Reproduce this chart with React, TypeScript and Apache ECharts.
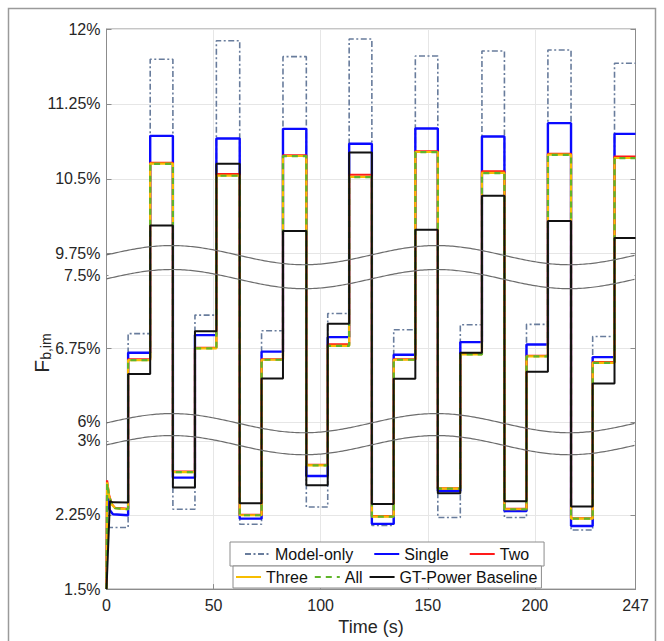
import React, { useEffect, useRef } from 'react';
import * as echarts from 'echarts';

// ---------- data ----------
// phase boundaries (s): low, mid, high levels repeat 8 times
const PHASE_TIMES = [0, 10.1, 20.4, 31.0, 41.3, 51.3, 62.2, 72.4, 82.4, 93.3, 103.3, 113.3, 123.9, 134.1, 144.2, 154.7, 165.2, 175.3, 185.8, 196.1, 206.1, 216.9, 227.0, 237.2, 247];

const SERIES_NAMES = ['Model-only', 'Single', 'Two', 'Three', 'All', 'GT-Power Baseline'];

// level held in each phase (%)
const MODEL_ONLY = [2.123, 6.905, 11.697, 2.308, 7.095, 11.883, 2.156, 6.935, 11.723, 2.331, 7.112, 11.9, 2.145, 6.945, 11.73, 2.224, 6.996, 11.78, 2.224, 7.0, 11.79, 2.098, 6.876, 11.657];
const SINGLE = [2.247, 6.709, 10.93, 2.628, 6.89, 10.903, 2.213, 6.72, 11.0, 2.644, 6.869, 10.85, 2.16, 6.688, 11.003, 2.492, 6.818, 10.923, 2.29, 6.794, 11.057, 2.139, 6.664, 10.95];
const TWO = [2.312, 6.64, 10.66, 2.69, 6.76, 10.547, 2.25, 6.642, 10.735, 2.757, 6.794, 10.54, 2.238, 6.642, 10.775, 2.52, 6.697, 10.573, 2.312, 6.676, 10.75, 2.217, 6.612, 10.723];
const THREE = [2.308, 6.633, 10.652, 2.684, 6.753, 10.532, 2.247, 6.637, 10.728, 2.752, 6.78, 10.519, 2.234, 6.637, 10.768, 2.517, 6.692, 10.558, 2.308, 6.671, 10.741, 2.213, 6.606, 10.708];
const ALL = [2.308, 6.633, 10.65, 2.684, 6.753, 10.53, 2.247, 6.637, 10.727, 2.752, 6.78, 10.517, 2.234, 6.637, 10.767, 2.517, 6.692, 10.557, 2.308, 6.671, 10.74, 2.213, 6.606, 10.707];
const GT_POWER = [2.375, 6.49, 10.033, 2.527, 6.93, 10.65, 2.368, 6.445, 9.977, 2.55, 7.006, 10.763, 2.361, 6.442, 9.99, 2.469, 6.709, 10.33, 2.388, 6.514, 10.077, 2.335, 6.394, 9.907];

// start-up transient at t = 0 ([time, value])
const START_MODEL: [number, number][] = [[0, 1.5], [0.5, 2.15], [1.5, 2.123]];
const START_SINGLE: [number, number][] = [[0, 1.5], [0.3, 2.45], [1.5, 2.3], [3, 2.258]];
const START_TWO: [number, number][] = [[0, 1.5], [0.25, 2.6], [1.2, 2.45], [2.5, 2.36], [4, 2.322]];
const START_THREE: [number, number][] = [[0, 1.5], [0.3, 2.58], [1.2, 2.44], [2.5, 2.355], [4, 2.318]];
const START_ALL: [number, number][] = [[0, 1.5], [0.3, 2.57], [1.2, 2.44], [2.5, 2.355], [4, 2.318]];
const START_GT: [number, number][] = [[0, 1.5], [1.6, 2.39], [3, 2.378]];

const Y_TICKS = [1.5, 2.25, 3, 6, 6.75, 7.5, 9.75, 10.5, 11.25, 12];
const X_TICKS = [0, 50, 100, 150, 200, 247];

// broken y axis: real value ranges and the share of the axis they get
const SEGMENTS = [
  { lo: 1.5, hi: 3, dLo: 0, dHi: 148.5 },
  { lo: 6, hi: 7.5, dLo: 167.5, dHi: 314 },
  { lo: 9.75, hi: 12, dLo: 336, dHi: 561 },
];
const D_MAX = 561;

function toDisp(v: number): number {
  for (let i = 0; i < SEGMENTS.length; i++) {
    const s = SEGMENTS[i];
    if (v <= s.hi || i === SEGMENTS.length - 1) {
      if (v >= s.lo || i === 0) return s.dLo + ((v - s.lo) * (s.dHi - s.dLo)) / (s.hi - s.lo);
      const p = SEGMENTS[i - 1];
      return p.dHi + ((v - p.hi) * (s.dLo - p.dHi)) / (s.lo - p.hi);
    }
  }
  return 0;
}
function fromDisp(d: number): number {
  for (let i = 0; i < SEGMENTS.length; i++) {
    const s = SEGMENTS[i];
    if (d <= s.dHi + 1e-9 || i === SEGMENTS.length - 1) {
      if (d >= s.dLo - 1e-9 || i === 0) return s.lo + ((d - s.dLo) * (s.hi - s.lo)) / (s.dHi - s.dLo);
      const p = SEGMENTS[i - 1];
      return p.hi + ((d - p.dHi) * (s.lo - p.hi)) / (s.dLo - p.dHi);
    }
  }
  return 0;
}

function buildPoints(levels: number[], start: [number, number][]) {
  const pts: number[][] = start.map(([t, v]) => [t, toDisp(v)]);
  levels.forEach((v, k) => {
    if (!(k === 0 && start.length)) pts.push([PHASE_TIMES[k], toDisp(v)]);
    pts.push([PHASE_TIMES[k + 1], toDisp(v)]);
  });
  return pts;
}

const FONT = '"Liberation Sans", Arial, Helvetica, sans-serif';
const TXT = '#262626';
const AXIS = '#8c8c8c';

export default function App() {
  const ref = useRef<HTMLDivElement>(null);

  useEffect(() => {
    const el = ref.current!;
    const chart = echarts.init(el, null, { renderer: 'svg' });
    const tickDisp = Y_TICKS.map(toDisp);

    const styles = [
      { color: '#687c9c', width: 1.6, type: [6, 2.5, 2, 2.5] },
      { color: '#0a0aff', width: 2.4, type: 'solid' },
      { color: '#ff1a1a', width: 2.2, type: 'solid' },
      { color: '#f7bd00', width: 2.2, type: 'solid' },
      { color: '#5fb52a', width: 2.2, type: [6, 5] },
      { color: '#111111', width: 2, type: 'solid' },
    ];
    const dataSets = [
      buildPoints(MODEL_ONLY, START_MODEL),
      buildPoints(SINGLE, START_SINGLE),
      buildPoints(TWO, START_TWO),
      buildPoints(THREE, START_THREE),
      buildPoints(ALL, START_ALL),
      buildPoints(GT_POWER, START_GT),
    ];

    const legendText = { fontSize: 16, color: '#111', fontFamily: FONT };
    const hiddenSymbol = { color: 'rgba(0,0,0,0)', borderColor: 'rgba(0,0,0,0)', borderWidth: 0, opacity: 0 };

    const yAxisBase = {
      type: 'value',
      min: 0,
      max: D_MAX,
      axisLine: { show: true, lineStyle: { color: AXIS, width: 1 } },
      axisTick: { show: true, inside: true, length: 5, customValues: tickDisp, lineStyle: { color: AXIS } },
    };

    chart.setOption({
      animation: false,
      backgroundColor: '#ffffff',
      grid: { left: 106.5, right: 28.5, top: 29, bottom: 51, show: true, borderColor: AXIS, borderWidth: 1, backgroundColor: 'transparent' },
      xAxis: {
        type: 'value',
        min: 0,
        max: 247,
        name: 'Time (s)',
        nameLocation: 'middle',
        nameGap: 28,
        nameTextStyle: { fontSize: 18, color: TXT, fontFamily: FONT },
        axisLine: { show: true, onZero: false, lineStyle: { color: AXIS } },
        axisTick: { show: true, inside: true, length: 5, customValues: X_TICKS, lineStyle: { color: AXIS } },
        axisLabel: { customValues: X_TICKS, fontSize: 16, color: TXT, fontFamily: FONT, margin: 8 },
        splitLine: { show: true, lineStyle: { color: '#e6e6e6', width: 1 } },
      },
      yAxis: [
        {
          ...yAxisBase,
          position: 'left',
          axisLabel: {
            customValues: tickDisp,
            fontSize: 16,
            color: TXT,
            fontFamily: FONT,
            margin: 6,
            formatter: (d: number) => `${Number(fromDisp(d).toFixed(2))}%`,
          },
          splitLine: { show: true, lineStyle: { color: '#e6e6e6', width: 1 } },
        },
        {
          ...yAxisBase,
          position: 'right',
          axisLabel: { show: false },
          splitLine: { show: false },
        },
      ],
      legend: [
        {
          data: SERIES_NAMES.slice(0, 3),
          left: 230,
          top: 542,
          orient: 'horizontal',
          padding: [4, 15, 4, 14],
          itemGap: 20,
          itemWidth: 25,
          itemHeight: 14,
          itemStyle: hiddenSymbol,
          textStyle: legendText,
          borderColor: '#8c8c8c',
          borderWidth: 1,
          backgroundColor: '#ffffff',
          selectedMode: false,
        },
        {
          data: SERIES_NAMES.slice(3),
          left: 233,
          top: 566,
          orient: 'horizontal',
          padding: [3, 4, 3, 2],
          itemGap: 6,
          itemWidth: 25,
          itemHeight: 14,
          itemStyle: hiddenSymbol,
          textStyle: legendText,
          borderColor: '#8c8c8c',
          borderWidth: 1,
          backgroundColor: '#ffffff',
          selectedMode: false,
        },
      ],
      series: SERIES_NAMES.map((name, i) => ({
        name,
        type: 'line',
        data: dataSets[i],
        symbol: 'none',
        showSymbol: false,
        lineStyle: { color: styles[i].color, width: styles[i].width, type: styles[i].type, cap: 'butt' },
        itemStyle: { color: styles[i].color },
        z: 2 + i * 0.01,
        clip: true,
      })),
    });

    // axis-break bands (decoration), placed from the axis scale
    const x0 = chart.convertToPixel({ xAxisIndex: 0 }, 0) as number;
    const x1 = chart.convertToPixel({ xAxisIndex: 0 }, 247) as number;
    const py = (v: number) => chart.convertToPixel({ yAxisIndex: 0 }, toDisp(v)) as number;
    const bands = [
      [py(9.75) + 1.5, py(7.5) + 3.5],
      [py(6) + 1.3, py(3) + 4.3],
    ];
    const AMP = 9.6;
    const PERIOD = 265;
    const PEAK_X = x0 + 65.2;
    const wave = (c: number) => {
      const pts: number[][] = [];
      for (let x = x0; x <= x1 + 0.01; x += 2) {
        pts.push([x, c - AMP * Math.cos((2 * Math.PI * (x - PEAK_X)) / PERIOD)]);
      }
      return pts;
    };
    const graphics: any[] = [];
    bands.forEach(([cu, cl]) => {
      const up = wave(cu);
      const lo = wave(cl);
      const fillPts = up
        .filter((p) => p[0] > x0 + 0.8 && p[0] < x1 - 0.8)
        .concat(lo.filter((p) => p[0] > x0 + 0.8 && p[0] < x1 - 0.8).reverse());
      graphics.push({ type: 'polygon', z: 1, silent: true, shape: { points: fillPts }, style: { fill: '#ffffff', stroke: 'none' } });
      graphics.push({ type: 'polyline', z: 10, silent: true, shape: { points: up }, style: { stroke: '#6e6e6e', lineWidth: 1.2, fill: 'none' } });
      graphics.push({ type: 'polyline', z: 10, silent: true, shape: { points: lo }, style: { stroke: '#6e6e6e', lineWidth: 1.2, fill: 'none' } });
    });
    // y-axis title with subscript
    graphics.push({
      type: 'text',
      x: 41,
      y: 353,
      rotation: Math.PI / 2,
      z: 10,
      style: {
        text: '{a|F}{b|b,im}',
        align: 'center',
        verticalAlign: 'middle',
        rich: {
          a: { fontSize: 21, fontFamily: FONT, fill: TXT, lineHeight: 24, verticalAlign: 'middle' },
          b: { fontSize: 14, fontFamily: FONT, fill: TXT, lineHeight: 14, verticalAlign: 'bottom' },
        },
      },
    });
    // figure frame
    graphics.push({ type: 'rect', z: 10, silent: true, shape: { x: 8.5, y: 8.5, width: 647, height: 640 }, style: { fill: 'none', stroke: '#9a9a9a', lineWidth: 1.5 } });

    chart.setOption({ graphic: graphics });

    return () => chart.dispose();
  }, []);

  return <div ref={ref} style={{ position: 'absolute', left: 0, top: 0, width: 664, height: 641 }} />;
}
